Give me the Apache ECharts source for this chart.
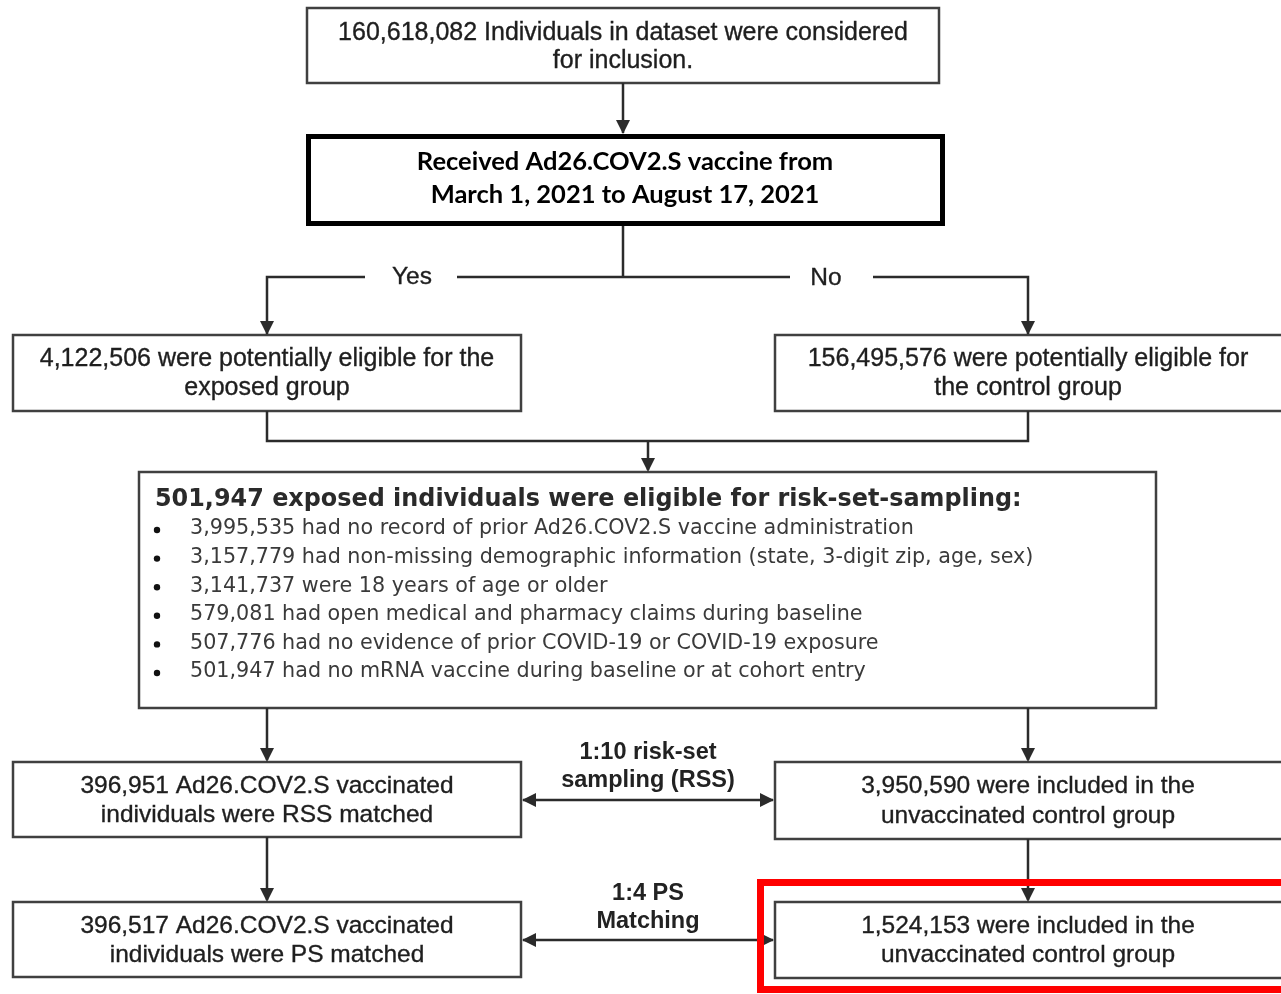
<!DOCTYPE html>
<html><head><meta charset="utf-8">
<script src="https://cdn.jsdelivr.net/npm/echarts@6/dist/echarts.min.js"></script>
<style>html,body{margin:0;padding:0;background:#fff}#c{width:1281px;height:994px}</style>
</head><body><div id="c"></div>
<script>
// ---- data (text content of the flow chart) ----
const topBoxLines = ['160,618,082 Individuals in dataset were considered', 'for inclusion.'];
const decisionLines = ['Received Ad26.COV2.S vaccine from', 'March 1, 2021 to August 17, 2021'];
const branchLabels = ['Yes', 'No'];
const eligibleLines = [
  ['4,122,506 were potentially eligible for the', 'exposed group'],
  ['156,495,576 were potentially eligible for', 'the control group']
];
const criteriaTitle = '501,947 exposed individuals were eligible for risk-set-sampling:';
const criteriaItems = [
  '3,995,535 had no record of prior Ad26.COV2.S vaccine administration',
  '3,157,779 had non-missing demographic information (state, 3-digit zip, age, sex)',
  '3,141,737 were 18 years of age or older',
  '579,081 had open medical and pharmacy claims during baseline',
  '507,776 had no evidence of prior COVID-19 or COVID-19 exposure',
  '501,947 had no mRNA vaccine during baseline or at cohort entry'
];
const rssLines = [
  ['396,951 Ad26.COV2.S vaccinated', 'individuals were RSS matched'],
  ['3,950,590 were included in the', 'unvaccinated control group']
];
const rssLabel = ['1:10 risk-set', 'sampling (RSS)'];
const psLines = [
  ['396,517 Ad26.COV2.S vaccinated', 'individuals were PS matched'],
  ['1,524,153 were included in the', 'unvaccinated control group']
];
const psLabel = ['1:4 PS', 'Matching'];

// ---- drawing ----
const LINE = '#2b2b2b', BOX = '#404040', TXT = '#1e1e1e';
const FONT = '"Liberation Sans", Arial, sans-serif';
const WIDE = '"DejaVu Sans", sans-serif';
const els = [];
function box(x, y, w, h, lw, stroke) {
  els.push({type:'rect', shape:{x, y, width:w, height:h}, style:{fill:'#fff', stroke: stroke || BOX, lineWidth: lw || 2.5}, z:1});
}
function lines(arr, cx, y0, lh, size, weight, family, color, thick) {
  arr.forEach((t, i) => els.push({type:'text', z:3, style:{text:t, x:cx, y:y0 + i*lh, align:'center', verticalAlign:'middle',
    fontSize:size, fontWeight:weight||'normal', fontFamily:family||FONT, fill:color||TXT,
    stroke: thick === 0 ? null : (color||TXT), lineWidth: thick === 0 ? 0 : (thick || 0.35)}}));
}
function pl(points, lw) {
  els.push({type:'polyline', z:2, shape:{points}, style:{stroke:LINE, lineWidth:lw||2.5, fill:null}});
}
function head(x, y, dir) { // tip at (x,y)
  const a = 14, b = 7; let p;
  if (dir === 'down') p = [[x, y], [x-b, y-a], [x+b, y-a]];
  if (dir === 'left') p = [[x, y], [x+a, y-b], [x+a, y+b]];
  if (dir === 'right') p = [[x, y], [x-a, y-b], [x-a, y+b]];
  els.push({type:'polygon', z:4, shape:{points:p}, style:{fill:LINE}});
}

const LX = 267, RX = 1028, MX = 648;
// top box
box(307, 8, 632, 75);
lines(topBoxLines, 623, 33, 28, 25);
pl([[623, 83], [623, 133]]); head(623, 134, 'down');
// decision box
box(308.5, 136.5, 634, 87, 5, '#000');
lines(decisionLines, 625, 162, 33, 25.5, 'bold', 'Lato, "Open Sans", sans-serif', '#000', 0);
// branch
pl([[623, 226], [623, 277]]);
pl([[LX, 334], [LX, 277], [365, 277]]);
pl([[457, 277], [790, 277]]);
pl([[873, 277], [RX, 277], [RX, 334]]);
head(LX, 335, 'down'); head(RX, 335, 'down');
lines([branchLabels[0]], 412, 277, 28, 24.5);
lines([branchLabels[1]], 826, 278, 28, 24.5);
// eligible boxes
box(13, 335, 508, 76);
box(775, 335, 510, 76);
lines(eligibleLines[0], LX, 359, 29, 25);
lines(eligibleLines[1], RX, 359, 29, 25);
// merge
pl([[LX, 411], [LX, 441], [RX, 441], [RX, 411]]);
pl([[MX, 441], [MX, 470]]); head(MX, 472, 'down');
// criteria box
box(139, 472, 1017, 236);
els.push({type:'text', z:3, style:{text:criteriaTitle, x:155, y:500, align:'left', verticalAlign:'middle', fontSize:23.9, fontWeight:'bold', fontFamily:WIDE, fill:'#2a2a2a'}});
criteriaItems.forEach((t, i) => {
  const y = 529 + i*28.6;
  els.push({type:'circle', z:3, shape:{cx:157, cy:y+1, r:3.2}, style:{fill:'#111'}});
  els.push({type:'text', z:3, style:{text:t, x:190, y, align:'left', verticalAlign:'middle', fontSize:20.7, fontFamily:WIDE, fill:'#3a3a3a'}});
});
// down to RSS
pl([[LX, 708], [LX, 760]]); head(LX, 762, 'down');
pl([[RX, 708], [RX, 760]]); head(RX, 762, 'down');
box(13, 762, 508, 75);
box(775, 762, 510, 77);
lines(rssLines[0], LX, 786, 29, 24.5);
lines(rssLines[1], RX, 786, 30, 24.5);
pl([[523, 800], [773, 800]]); head(522, 800, 'left'); head(774, 800, 'right');
lines(rssLabel, MX, 753, 28, 23.5, 'bold', FONT, '#222', 0);
// down to PS
pl([[LX, 837], [LX, 900]]); head(LX, 902, 'down');
pl([[RX, 839], [RX, 900]]); head(RX, 902, 'down');
box(13, 902, 508, 75);
box(775, 902, 510, 76);
lines(psLines[0], LX, 926, 29, 24.5);
lines(psLines[1], RX, 926, 29, 24.5);
pl([[523, 940], [773, 940]]); head(522, 940, 'left'); head(774, 940, 'right');
lines(psLabel, MX, 894, 28, 23.5, 'bold', FONT, '#222', 0);
// red highlight
els.push({type:'rect', z:5, shape:{x:760.5, y:882.5, width:540, height:107}, style:{fill:null, stroke:'#ff0000', lineWidth:7}});

const chart = echarts.init(document.getElementById('c'), null, {renderer:'canvas'});
chart.setOption({backgroundColor:'#fff', animation:false, graphic:{elements:els}});
</script></body></html>
